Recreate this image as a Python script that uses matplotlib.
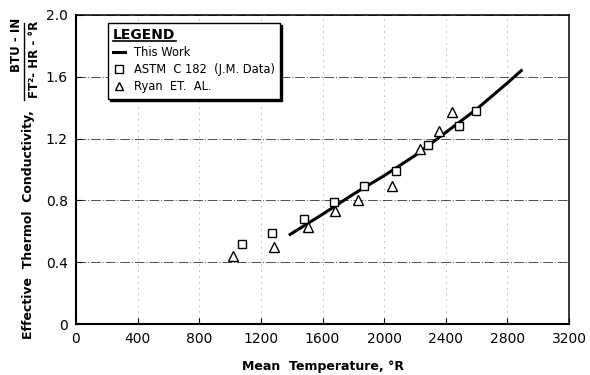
import matplotlib
matplotlib.use("Agg")
import matplotlib.pyplot as plt
from matplotlib.lines import Line2D

# "This Work" curve
work_t = [1390, 1600, 1800, 2000, 2200, 2400, 2600, 2800, 2890]
work_k = [0.58, 0.71, 0.84, 0.96, 1.09, 1.24, 1.39, 1.56, 1.64]

# ASTM C 182 (J.M. Data)
astm_t = [1076, 1272, 1478, 1677, 1871, 2075, 2287, 2484, 2594]
astm_k = [0.52, 0.59, 0.68, 0.79, 0.89, 0.99, 1.16, 1.28, 1.38]

# Ryan et al.
ryan_t = [1017, 1287, 1506, 1681, 1829, 2049, 2233, 2358, 2439]
ryan_k = [0.44, 0.50, 0.63, 0.73, 0.80, 0.89, 1.13, 1.25, 1.37]

x_ticks = [0, 400, 800, 1200, 1600, 2000, 2400, 2800, 3200]
y_ticks = [0, 0.4, 0.8, 1.2, 1.6, 2.0]
y_tick_labels = ["0", "0.4", "0.8", "1.2", "1.6", "2.0"]

plt.rcParams["font.family"] = "DejaVu Sans"

fig = plt.figure(figsize=(5.9, 3.75), dpi=100)
ax = fig.add_axes([76 / 590, 1 - 324 / 375, 493 / 590, 309 / 375])

ax.set_xlim(0, 3200)
ax.set_ylim(0, 2.0)
ax.set_xticks(x_ticks)
ax.set_yticks(y_ticks)
ax.set_yticklabels(y_tick_labels)
ax.tick_params(direction="in", length=4, width=0.8, labelsize=10, pad=6)

ax.grid(axis="y", ls=(0, (10, 2, 1, 2)), color="0.3", lw=0.7)
ax.grid(axis="x", ls=(0, (2, 5)), color="0.7", lw=0.6)
for side in ["left", "bottom"]:
    ax.spines[side].set_linewidth(1.5)
for side in ["top", "right"]:
    ax.spines[side].set_linewidth(1.1)

ax.plot(work_t, work_k, color="black", lw=2.2, label="This Work", zorder=3)
ax.plot(astm_t, astm_k, ls="none", marker="s", ms=6, mfc="white", mec="black",
        mew=1.0, label="ASTM  C 182  (J.M. Data)", zorder=4)
ax.plot(ryan_t, ryan_k, ls="none", marker="^", ms=6.5, mfc="white", mec="black",
        mew=1.0, label="Ryan  ET.  AL.", zorder=4)

leg = ax.legend(title="LEGEND", loc="upper left", bbox_to_anchor=(0.065, 0.974),
                borderaxespad=0, fontsize=8.3, title_fontsize=10, frameon=True,
                fancybox=False, edgecolor="black", framealpha=1,
                shadow={"color": "black", "alpha": 1, "ox": 1.5, "oy": -1.5},
                handlelength=1.0, handletextpad=0.8, labelspacing=0.35,
                borderpad=0.45, markerscale=0.85)
leg.get_title().set_fontweight("bold")
leg._legend_box.align = "left"
leg.get_frame().set_linewidth(1.0)

ax.set_xlabel("Mean  Temperature, °R", fontsize=9, fontweight="bold", labelpad=10)

fig.text(29 / 590, 1 - 225 / 375, "Effective  Thermol  Conductivity,", rotation=90,
         ha="center", va="center", fontsize=9, fontweight="bold")

# units written as a fraction: BTU-IN over FT2-HR-°R
fig.text(16.5 / 590, 1 - 45 / 375, "BTU - IN", rotation=90,
         ha="center", va="center", fontsize=8.5, fontweight="bold")
fig.text(34 / 590, 1 - 59 / 375, "FT²- HR - °R", rotation=90,
         ha="center", va="center", fontsize=8.5, fontweight="bold")
fig.add_artist(Line2D([24 / 590, 24 / 590], [1 - 100 / 375, 1 - 23 / 375],
                      transform=fig.transFigure, color="black", lw=1.0))

# underline the legend title
fig.canvas.draw()
bb = leg.get_title().get_window_extent()
inv = fig.transFigure.inverted()
(x0, y0), (x1, _) = inv.transform([(bb.x0, bb.y0 + 1), (bb.x1, bb.y0 + 1)])
fig.add_artist(Line2D([x0, x1], [y0, y0], transform=fig.transFigure,
                      color="black", lw=1.2))

fig.savefig("out.png", dpi=100)
